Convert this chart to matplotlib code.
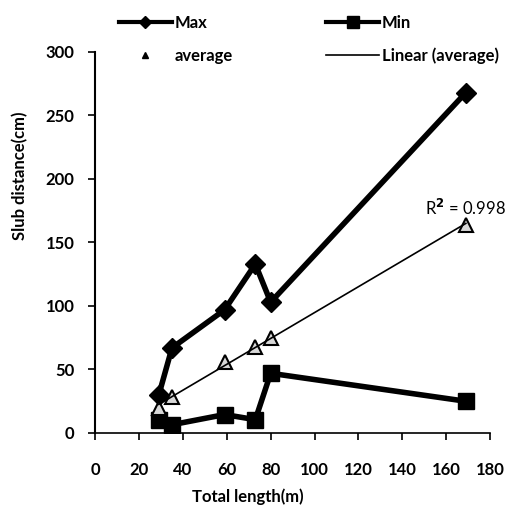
import matplotlib.pyplot as plt
import numpy as np
from matplotlib.lines import Line2D

plt.rcParams['font.family'] = ['Lato', 'DejaVu Sans']
plt.rcParams['font.weight'] = 'bold'

# total length (m)
length = [29, 35, 59, 73, 80, 169]
max_dist = [30, 67, 97, 133, 103, 268]
min_dist = [10.5, 6.5, 14.5, 10.5, 47, 25]
avg_dist = [20, 28, 56, 68, 75, 164]
r2_label = 'R$^2$ = 0.998'

xticks = [0, 20, 40, 60, 80, 100, 120, 140, 160, 180]
yticks = [0, 50, 100, 150, 200, 250, 300]

fig = plt.figure(figsize=(5.32, 5.17), dpi=100)
ax = fig.add_axes([0.179, 0.1625, 0.742, 0.737])

ax.plot(length, max_dist, color='black', lw=4, marker='D', ms=10, label='Max')
ax.plot(length, min_dist, color='black', lw=4, marker='s', ms=12, label='Min')
ax.plot(length, avg_dist, ls='none', marker='^', ms=10, mfc='#d8d8d8',
        mec='black', mew=1.5, label='average')

# linear trend line of the average
k, b = np.polyfit(length, avg_dist, 1)
xx = np.array([length[0], length[-1]])
ax.plot(xx, k * xx + b, color='black', lw=1.2, label='Linear (average)')
ax.text(169, 177, r2_label, ha='center', va='center',
        fontsize=12, fontweight='normal')

ax.set_xlim(0, 180)
ax.set_ylim(0, 300)
ax.set_xticks(xticks)
ax.set_yticks(yticks)
ax.spines['top'].set_visible(False)
ax.spines['right'].set_visible(False)
ax.spines['left'].set_linewidth(1.5)
ax.spines['bottom'].set_linewidth(1.2)
ax.tick_params(axis='x', direction='out', length=5, width=1.2, pad=16, labelsize=12)
ax.tick_params(axis='y', direction='out', length=5, width=1.2, pad=10, labelsize=12)

fig.text(0.466, 0.039, 'Total length(m)', ha='center', va='center',
         fontsize=12, fontweight='bold')
fig.text(0.038, 0.661, 'Slub distance(cm)', ha='center', va='center',
         rotation=90, fontsize=12, fontweight='bold')

handles = [
    Line2D([], [], color='black', lw=3, marker='D', ms=6),
    Line2D([], [], ls='none', marker='^', ms=5, color='black'),
    Line2D([], [], color='black', lw=3, marker='s', ms=8),
    Line2D([], [], color='black', lw=1.2),
]
labels = ['Max', 'average', 'Min', 'Linear (average)']
fig.legend(handles, labels, loc='upper left', bbox_to_anchor=(0.195, 1.0),
           ncol=2, frameon=False, fontsize=12, handlelength=3.2,
           handletextpad=0.15, columnspacing=5.6, labelspacing=1.0)

plt.savefig('out.png', dpi=100)
